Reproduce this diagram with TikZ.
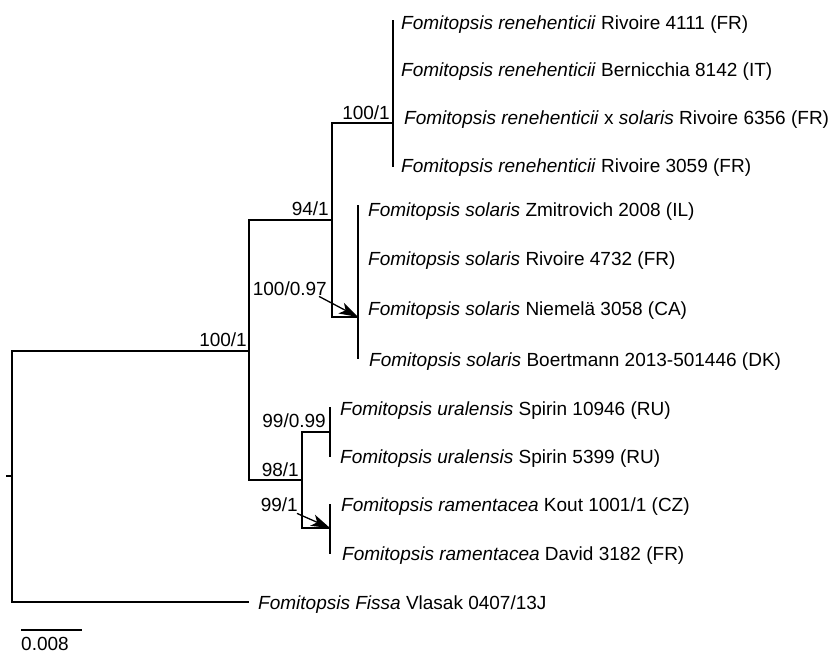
\documentclass[tikz,border=0pt]{standalone}
\usepackage{fontspec}
\setmainfont{Liberation Sans}
\usetikzlibrary{arrows.meta}
\begin{document}
\begin{tikzpicture}[x=1pt,y=-1pt,
  br/.style={line width=1.3pt,line cap=rect},
  leaf/.style={anchor=base west,inner sep=0pt,font=\fontsize{19}{22}\selectfont},
  sup/.style={anchor=base east,inner sep=0pt,font=\fontsize{19}{22}\selectfont},
  arr/.style={line width=1.3pt,-{Stealth[length=19pt,width=12pt,inset=5pt]}}]
\useasboundingbox (0,0) rectangle (830,654);
% tree nodes
\coordinate (stub) at (7,476);
\coordinate (r) at (12,476);
\coordinate (A) at (249,351);
\coordinate (fe) at (248,602);
\coordinate (B) at (332,220);
\coordinate (E) at (302,480);
\coordinate (C) at (393,123);
\coordinate (D) at (358,317);
\coordinate (F) at (330,432);
\coordinate (G) at (330,528);
\coordinate (Ctop) at (393,21);
\coordinate (Cbot) at (393,166);
\coordinate (Dtop) at (358,206);
\coordinate (Dbot) at (358,358);
\coordinate (Ftop) at (330,408);
\coordinate (Fbot) at (330,456);
\coordinate (Gtop) at (330,505);
\coordinate (Gbot) at (330,553);
\coordinate (Atop) at (249,220);
\coordinate (Abot) at (249,480);
\coordinate (Btop) at (332,123);
\coordinate (Bbot) at (332,317);
\coordinate (Etop) at (302,432);
\coordinate (Ebot) at (302,528);
% branches
\draw[br] (stub) -- (r);
\draw[br] (r) |- (A);
\draw[br] (r) |- (fe);
\draw[br] (Atop) -- (Abot);
\draw[br] (Atop) -- (B);
\draw[br] (Abot) -- (E);
\draw[br] (Btop) -- (Bbot);
\draw[br] (Btop) -- (C);
\draw[br] (Bbot) -- (D);
\draw[br] (Ctop) -- (Cbot);
\draw[br] (Dtop) -- (Dbot);
\draw[br] (Etop) -- (Ebot);
\draw[br] (Etop) -- (F);
\draw[br] (Ebot) -- (G);
\draw[br] (Ftop) -- (Fbot);
\draw[br] (Gtop) -- (Gbot);
% leaf labels
\node[leaf] (l1) at (401,29) {\textit{Fomitopsis renehenticii} Rivoire 4111 (FR)};
\node[leaf] (l2) at (401,76) {\textit{Fomitopsis renehenticii} Bernicchia 8142 (IT)};
\node[leaf] (l3) at (404,124) {\textit{Fomitopsis renehenticii} x \textit{solaris} Rivoire 6356 (FR)};
\node[leaf] (l4) at (401,172) {\textit{Fomitopsis renehenticii} Rivoire 3059 (FR)};
\node[leaf] (l5) at (368,216) {\textit{Fomitopsis solaris} Zmitrovich 2008 (IL)};
\node[leaf] (l6) at (368,265) {\textit{Fomitopsis solaris} Rivoire 4732 (FR)};
\node[leaf] (l7) at (368,315) {\textit{Fomitopsis solaris} Niemelä 3058 (CA)};
\node[leaf] (l8) at (369,366) {\textit{Fomitopsis solaris} Boertmann 2013-501446 (DK)};
\node[leaf] (l9) at (340,415) {\textit{Fomitopsis uralensis} Spirin 10946 (RU)};
\node[leaf] (l10) at (340,463) {\textit{Fomitopsis uralensis} Spirin 5399 (RU)};
\node[leaf] (l11) at (341,511) {\textit{Fomitopsis ramentacea} Kout 1001/1 (CZ)};
\node[leaf] (l12) at (342,560) {\textit{Fomitopsis ramentacea} David 3182 (FR)};
\node[leaf] (l13) at (258,609) {\textit{Fomitopsis Fissa} Vlasak 0407/13J};
% support values
\node[sup] (sA) at (247,346) {100/1};
\node[sup] (sB) at (329,215) {94/1};
\node[sup] (sC) at (390,119) {100/1};
\node[sup] (sD) at (327,295) {100/0.97};
\node[sup] (sE) at (299,476) {98/1};
\node[sup] (sF) at (326,427) {99/0.99};
\node[sup] (sG) at (298,511) {99/1};
\draw[arr] ([xshift=-8pt,yshift=-1pt]sD.south east) -- (D);
\draw[arr] ([xshift=-1pt,yshift=-2pt]sG.south east) -- (G);
% scale bar
\coordinate (s1) at (21,630);
\coordinate (s2) at (82,630);
\draw[line width=1.3pt] (s1) -- (s2);
\node[leaf] (sc) at (21,650) {0.008};
\end{tikzpicture}
\end{document}
